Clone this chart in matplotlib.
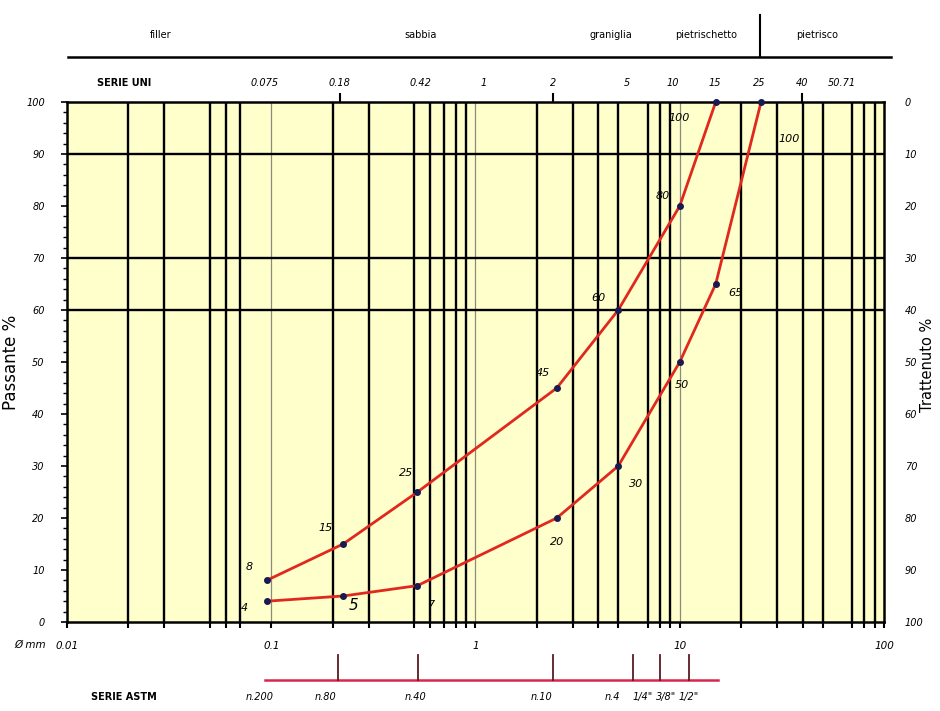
import matplotlib
matplotlib.use("Agg")
import matplotlib.pyplot as plt
from matplotlib.lines import Line2D

# ---------------- data ----------------
sieve_x = [0.095, 0.225, 0.52, 2.5, 5.0, 10.0, 15.0, 25.0]
curve_fine = [8, 15, 25, 45, 60, 80, 100]
curve_coarse = [4, 5, 7, 20, 30, 50, 65, 100]
fine_labels = ["8", "15", "25", "45", "60", "80", "100"]
coarse_labels = ["4", "5", "7", "20", "30", "50", "65", "100"]

grid_x = [0.02, 0.03, 0.05, 0.06, 0.07,
          0.2, 0.3, 0.5, 0.6, 0.7, 0.8, 0.9,
          2, 3, 4, 5, 7, 8, 9,
          20, 30, 40, 50, 70, 80, 90]
light_x = [0.1, 1, 10]
grid_y = [60, 70, 90]

x_ticks = [0.01, 0.1, 1, 10, 100]
x_ticklabels = ["0.01", "0.1", "1", "10", "100"]
y_ticks = [0, 10, 20, 30, 40, 50, 60, 70, 80, 90, 100]

uni_labels = ["0.075", "0.18", "0.42", "1", "2", "5", "10", "15", "25", "40", "50.71"]
uni_pos = [0.093, 0.215, 0.54, 1.09, 2.4, 5.5, 9.2, 14.9, 24.6, 39.9, 62.5]
uni_ticks = [0.216, 2.4, 39.9]

astm_labels = ["n.200", "n.80", "n.40", "n.10", "n.4", '1/4"', '3/8"', '1/2"']
astm_label_pos = [0.088, 0.185, 0.51, 2.1, 4.7, 6.6, 8.6, 11.0]
astm_ticks = [0.212, 0.523, 2.4, 5.9, 8.0, 11.1]
astm_span = [0.093, 15.4]

categories = ["filler", "sabbia", "graniglia", "pietrischetto", "pietrisco"]
category_pos = [0.0286, 0.54, 4.6, 13.5, 47.0]
category_split = 24.6

fine_off = [(-18, 13), (-18, 16), (-11, 19), (-14, 15), (-20, 12), (-17, 10), (-37, -16)]
coarse_off = [(-22, -7), (10, -9), (14, -19), (0, -24), (18, -18), (2, -23), (20, -9), (28, -37)]

# ---------------- figure ----------------
W, H = 940, 711
fig = plt.figure(figsize=(W / 100, H / 100), dpi=100)
fig.patch.set_facecolor("white")
L, R, T, B = 67, 884, 102, 622
ax = fig.add_axes([L / W, 1 - B / H, (R - L) / W, (B - T) / H])
ax.set_xscale("log")
ax.set_xlim(0.01, 100)
ax.set_ylim(0, 100)
ax.set_facecolor("#FFFFCC")

for gx in grid_x:
    ax.axvline(gx, color="black", lw=1.7, zorder=1)
for gx in light_x:
    ax.axvline(gx, color="#8a8a80", lw=0.9, zorder=1)
for gy in grid_y:
    ax.axhline(gy, color="black", lw=1.7, zorder=1)

for s in ax.spines.values():
    s.set_linewidth(1.8)

ax.set_xticks(x_ticks)
ax.set_xticklabels(x_ticklabels, fontsize=7.5, style="italic")
ax.set_xticks(grid_x + light_x, minor=True)
ax.set_xticklabels([], minor=True)
ax.tick_params(axis="x", which="both", direction="out", length=4, width=1.5, pad=10)
ax.set_yticks(y_ticks)
ax.set_yticklabels([str(v) for v in y_ticks], fontsize=7, style="italic")
ax.set_yticks(range(0, 101, 2), minor=True)
ax.tick_params(axis="y", which="major", direction="out", length=4, width=1.2, pad=12)
ax.tick_params(axis="y", which="minor", direction="out", length=3, width=1.0)
ax.set_ylabel("Passante %", fontsize=12, labelpad=4)

ax2 = ax.twinx()
ax2.set_ylim(100, 0)
ax2.set_yticks(y_ticks)
ax2.set_yticklabels([str(v) for v in y_ticks], fontsize=7, style="italic")
ax2.tick_params(axis="y", length=0, pad=15)
for s in ax2.spines.values():
    s.set_visible(False)
fig.text(927 / W, 1 - 365 / H, "Trattenuto %", rotation=90, ha="center", va="center",
         fontsize=10.5)

# curves
red = "#E0281E"
ax.plot(sieve_x[:len(curve_fine)], curve_fine, color=red, lw=2.0, zorder=3, clip_on=False)
ax.plot(sieve_x, curve_coarse, color=red, lw=2.0, zorder=3, clip_on=False)
ax.plot(sieve_x[:len(curve_fine)], curve_fine, "o", color="#1a1a50", ms=4, zorder=4, clip_on=False)
ax.plot(sieve_x, curve_coarse, "o", color="#1a1a50", ms=4, zorder=4, clip_on=False)

for xv, yv, lab, off in zip(sieve_x, curve_fine, fine_labels, fine_off):
    ax.annotate(lab, (xv, yv), xytext=off, textcoords="offset pixels",
                ha="center", va="center", fontsize=8, style="italic", zorder=5)
for xv, yv, lab, off in zip(sieve_x, curve_coarse, coarse_labels, coarse_off):
    fs = 11 if lab == "5" else 8
    ax.annotate(lab, (xv, yv), xytext=off, textcoords="offset pixels",
                ha="center", va="center", fontsize=fs, style="italic", zorder=5)

trans = ax.get_xaxis_transform()


def ay(py):
    return (B - py) / (B - T)


# top UNI series
ax.text(0.019, ay(83), "SERIE UNI", transform=trans, ha="center", va="center",
        fontsize=7, fontweight="bold")
for lab, xv in zip(uni_labels, uni_pos):
    ax.text(xv, ay(83), lab, transform=trans, ha="center", va="center",
            fontsize=7, style="italic")
for xv in uni_ticks:
    ax.add_line(Line2D([xv, xv], [1, ay(94)], transform=trans, color="black",
                       lw=1.5, clip_on=False))

# category band
ax.add_line(Line2D([0.0101, 108], [ay(57), ay(57)], transform=trans, color="black",
                   lw=1.8, clip_on=False))
ax.add_line(Line2D([category_split, category_split], [ay(57), ay(15)], transform=trans,
                   color="black", lw=1.5, clip_on=False))
for lab, xv in zip(categories, category_pos):
    ax.text(xv, ay(35), lab, transform=trans, ha="center", va="center", fontsize=7)

# bottom ASTM series
ax.add_line(Line2D(astm_span, [ay(680), ay(680)], transform=trans, color="#D8284A",
                   lw=1.8, clip_on=False))
for xv in astm_ticks:
    ax.add_line(Line2D([xv, xv], [ay(680), ay(655)], transform=trans, color="#5a1a20",
                       lw=1.3, clip_on=False))
ax.text(0.019, ay(697), "SERIE ASTM", transform=trans, ha="center", va="center",
        fontsize=7, fontweight="bold")
for lab, xv in zip(astm_labels, astm_label_pos):
    ax.text(xv, ay(697), lab, transform=trans, ha="center", va="center",
            fontsize=7, style="italic")

fig.text(30 / W, 1 - 645 / H, "Ø mm", ha="center", va="center", fontsize=7.5, style="italic")

fig.savefig("out.png", dpi=100)
